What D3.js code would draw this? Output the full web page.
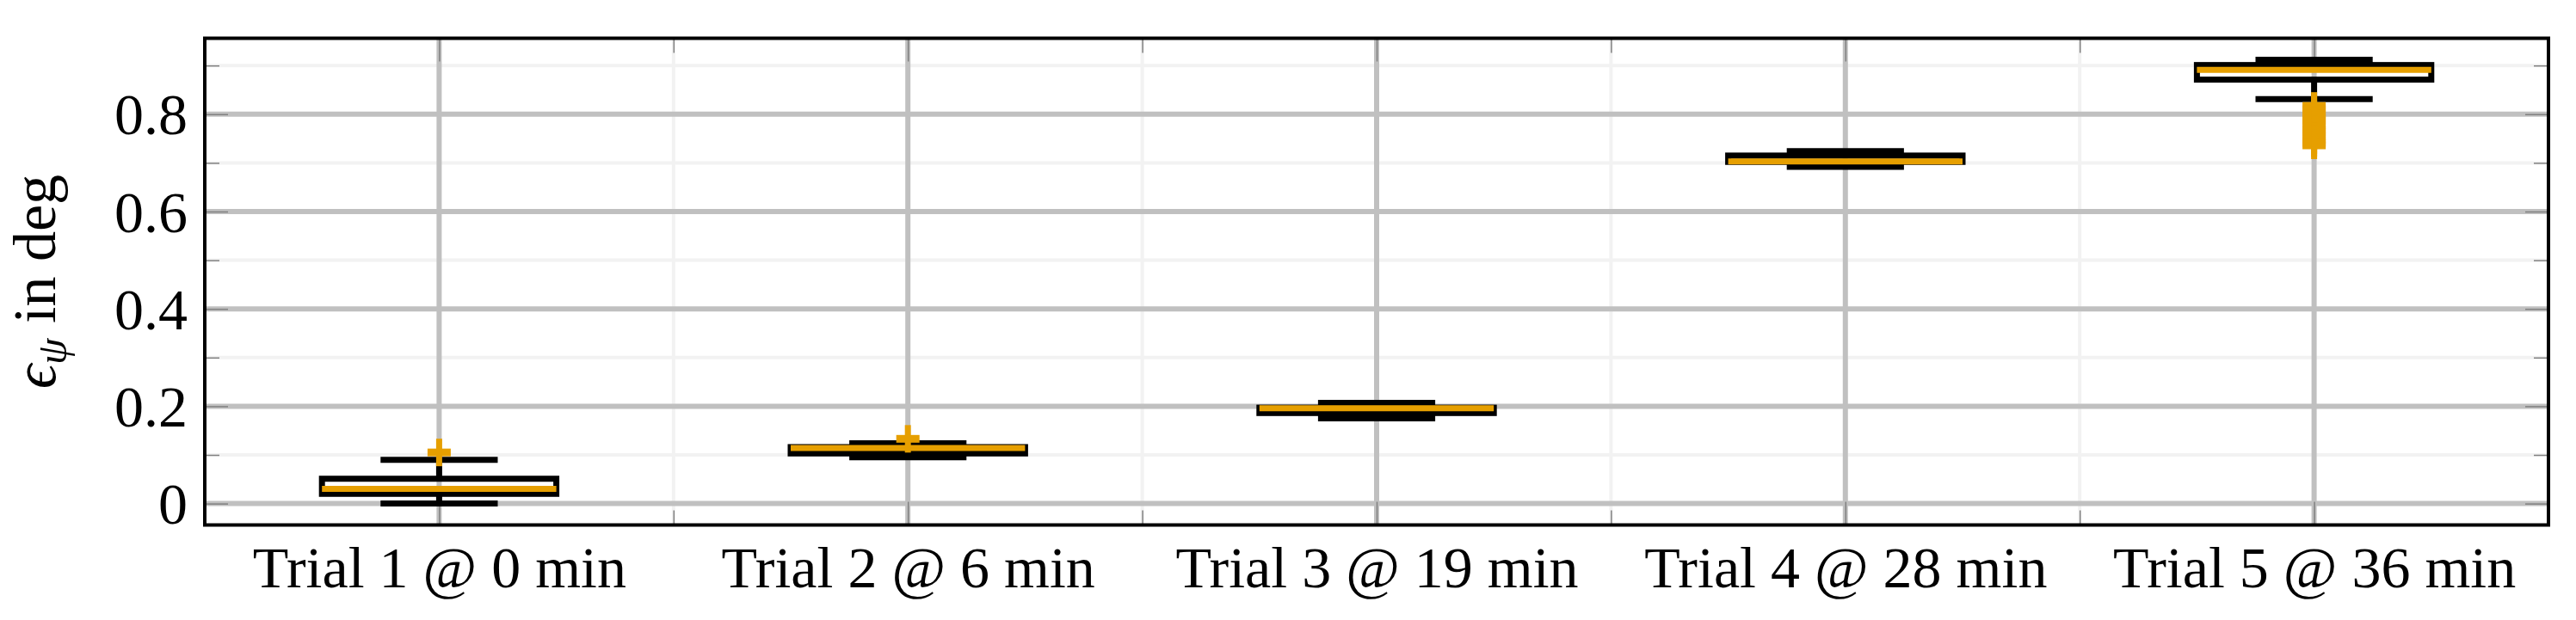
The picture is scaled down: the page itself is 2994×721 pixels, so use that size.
<!DOCTYPE html>
<html lang="en">
<head>
    <meta charset="UTF-8">
    <title>Heading error per trial</title>
    <script src="https://d3js.org/d3.v7.min.js"></script>
    <style>
        body { margin: 0; background: #fff; }
        svg text { font-family: "Liberation Serif", "DejaVu Serif", serif; fill: #000; }
    </style>
</head>
<body>
    <div id="chart"></div>
    <script>
        // Data (values in deg)
        const categories     = ["Trial 1 @ 0 min", "Trial 2 @ 6 min", "Trial 3 @ 19 min", "Trial 4 @ 28 min", "Trial 5 @ 36 min"];
        const lowerWhisker   = [0.000, 0.095, 0.175, 0.692, 0.831];
        const lowerQuartile  = [0.020, 0.103, 0.186, 0.702, 0.871];
        const medians        = [0.030, 0.114, 0.196, 0.703, 0.891];
        const upperQuartile  = [0.051, 0.116, 0.197, 0.715, 0.901];
        const upperWhisker   = [0.090, 0.124, 0.207, 0.724, 0.912];
        const outliers       = [[0.105], [0.133], [], [], [0.817, 0.810, 0.801, 0.793, 0.786, 0.778, 0.769, 0.763, 0.755, 0.747, 0.741, 0.736]];
        const yMajorTicks    = [0, 0.2, 0.4, 0.6, 0.8];
        const yMinorTicks    = [0.1, 0.3, 0.5, 0.7, 0.9];
        const xMinorTicks    = [1.5, 2.5, 3.5, 4.5];

        const W = 2994, H = 721;
        const plot = {left: 238, right: 2962, top: 44.5, bottom: 610.5};
        const orange = "#e69f00";

        const svg = d3.select("#chart").append("svg")
            .attr("width", W).attr("height", H);
        svg.append("rect").attr("width", W).attr("height", H).attr("fill", "#fff");

        const x = d3.scaleLinear().domain([0.5, 5.5]).range([plot.left, plot.right]);
        const y = d3.scaleLinear().domain([-0.044, 0.956]).range([plot.bottom, plot.top]);
        const xMajor = categories.map((d, i) => i + 1);

        // grid lines
        const grid = svg.append("g");
        grid.selectAll(".hmin").data(yMinorTicks).enter().append("line")
            .attr("x1", plot.left).attr("x2", plot.right)
            .attr("y1", d => y(d)).attr("y2", d => y(d))
            .attr("stroke", "#f2f2f2").attr("stroke-width", 4);
        grid.selectAll(".vmin").data(xMinorTicks).enter().append("line")
            .attr("y1", plot.top).attr("y2", plot.bottom)
            .attr("x1", d => x(d)).attr("x2", d => x(d))
            .attr("stroke", "#f2f2f2").attr("stroke-width", 4);
        grid.selectAll(".hmaj").data(yMajorTicks).enter().append("line")
            .attr("x1", plot.left).attr("x2", plot.right)
            .attr("y1", d => y(d)).attr("y2", d => y(d))
            .attr("stroke", "#c0c0c0").attr("stroke-width", 6);
        grid.selectAll(".vmaj").data(xMajor).enter().append("line")
            .attr("y1", plot.top).attr("y2", plot.bottom)
            .attr("x1", d => x(d)).attr("x2", d => x(d))
            .attr("stroke", "#c0c0c0").attr("stroke-width", 6);

        // inward ticks on all four sides
        function styleAxis(g) {
            g.select(".domain").remove();
            g.selectAll(".tick line").attr("stroke", "#808080").attr("stroke-width", 1.5);
            g.selectAll(".tick text").attr("font-size", 68).attr("font-family", null);
        }
        const fmt = d => d === 0 ? "0" : d3.format(".1f")(d);

        svg.append("g").attr("transform", `translate(${plot.left},0)`)
            .call(d3.axisLeft(y).tickValues(yMajorTicks).tickSize(-27).tickPadding(20).tickFormat(fmt))
            .call(styleAxis)
            .selectAll(".tick text").attr("dy", "0.34em");
        svg.append("g").attr("transform", `translate(${plot.left},0)`)
            .call(d3.axisLeft(y).tickValues(yMinorTicks).tickSize(-17).tickFormat(""))
            .call(styleAxis);
        svg.append("g").attr("transform", `translate(${plot.right},0)`)
            .call(d3.axisRight(y).tickValues(yMajorTicks).tickSize(-27).tickFormat(""))
            .call(styleAxis);
        svg.append("g").attr("transform", `translate(${plot.right},0)`)
            .call(d3.axisRight(y).tickValues(yMinorTicks).tickSize(-17).tickFormat(""))
            .call(styleAxis);
        svg.append("g").attr("transform", `translate(0,${plot.top})`)
            .call(d3.axisTop(x).tickValues(xMajor).tickSize(-27).tickFormat(""))
            .call(styleAxis);
        svg.append("g").attr("transform", `translate(0,${plot.top})`)
            .call(d3.axisTop(x).tickValues(xMinorTicks).tickSize(-17).tickFormat(""))
            .call(styleAxis);
        svg.append("g").attr("transform", `translate(0,${plot.bottom})`)
            .call(d3.axisTop(x).tickValues(xMinorTicks).tickSize(17).tickFormat(""))
            .call(styleAxis);
        svg.append("g").attr("transform", `translate(0,${plot.bottom})`)
            .call(d3.axisBottom(x).tickValues(xMajor).tickSize(-27).tickFormat((d, i) => categories[i]))
            .call(styleAxis)
            .selectAll(".tick text").attr("y", 72.5).attr("dy", 0);

        // boxes
        const boxes = svg.append("g").selectAll(".box").data(categories).enter().append("g");
        const bw = 0.25, cw = 0.125;

        boxes.append("line")
            .attr("x1", (d, i) => x(i + 1)).attr("x2", (d, i) => x(i + 1))
            .attr("y1", (d, i) => y(upperQuartile[i])).attr("y2", (d, i) => y(upperWhisker[i]))
            .attr("stroke", "#000").attr("stroke-width", 7);
        boxes.append("line")
            .attr("x1", (d, i) => x(i + 1)).attr("x2", (d, i) => x(i + 1))
            .attr("y1", (d, i) => y(lowerQuartile[i])).attr("y2", (d, i) => y(lowerWhisker[i]))
            .attr("stroke", "#000").attr("stroke-width", 7);
        boxes.append("line")
            .attr("x1", (d, i) => x(i + 1 - cw)).attr("x2", (d, i) => x(i + 1 + cw))
            .attr("y1", (d, i) => y(upperWhisker[i])).attr("y2", (d, i) => y(upperWhisker[i]))
            .attr("stroke", "#000").attr("stroke-width", 7);
        boxes.append("line")
            .attr("x1", (d, i) => x(i + 1 - cw)).attr("x2", (d, i) => x(i + 1 + cw))
            .attr("y1", (d, i) => y(lowerWhisker[i])).attr("y2", (d, i) => y(lowerWhisker[i]))
            .attr("stroke", "#000").attr("stroke-width", 7);
        boxes.append("rect")
            .attr("x", (d, i) => x(i + 1 - bw))
            .attr("width", (d, i) => x(i + 1 + bw) - x(i + 1 - bw))
            .attr("y", (d, i) => y(upperQuartile[i]))
            .attr("height", (d, i) => y(lowerQuartile[i]) - y(upperQuartile[i]))
            .attr("fill", "none").attr("stroke", "#000").attr("stroke-width", 7);
        boxes.append("line")
            .attr("x1", (d, i) => x(i + 1 - bw)).attr("x2", (d, i) => x(i + 1 + bw))
            .attr("y1", (d, i) => y(medians[i])).attr("y2", (d, i) => y(medians[i]))
            .attr("stroke", orange).attr("stroke-width", 7);

        // outlier "+" marks
        const pts = [];
        outliers.forEach((arr, i) => arr.forEach(v => pts.push({cx: i + 1, v: v})));
        const marks = svg.append("g").selectAll(".out").data(pts).enter().append("g")
            .attr("transform", d => `translate(${x(d.cx)},${y(d.v)})`);
        marks.append("line").attr("x1", -13.5).attr("x2", 13.5)
            .attr("stroke", orange).attr("stroke-width", 9);
        marks.append("line").attr("y1", -16).attr("y2", 16)
            .attr("stroke", orange).attr("stroke-width", 7);

        // frame
        svg.append("rect")
            .attr("x", plot.left).attr("y", plot.top)
            .attr("width", plot.right - plot.left).attr("height", plot.bottom - plot.top)
            .attr("fill", "none").attr("stroke", "#000").attr("stroke-width", 4);

        // y label
        const yl = svg.append("text")
            .attr("transform", `translate(64,${(plot.top + plot.bottom) / 2}) rotate(-90)`)
            .attr("text-anchor", "middle").attr("font-size", 70);
        yl.append("tspan").attr("font-style", "italic").text("ϵ");
        yl.append("tspan").attr("font-style", "italic").attr("font-size", 49).attr("dy", 13).text("ψ");
        yl.append("tspan").attr("dy", -13).text(" in deg");
    </script>
</body>
</html>
